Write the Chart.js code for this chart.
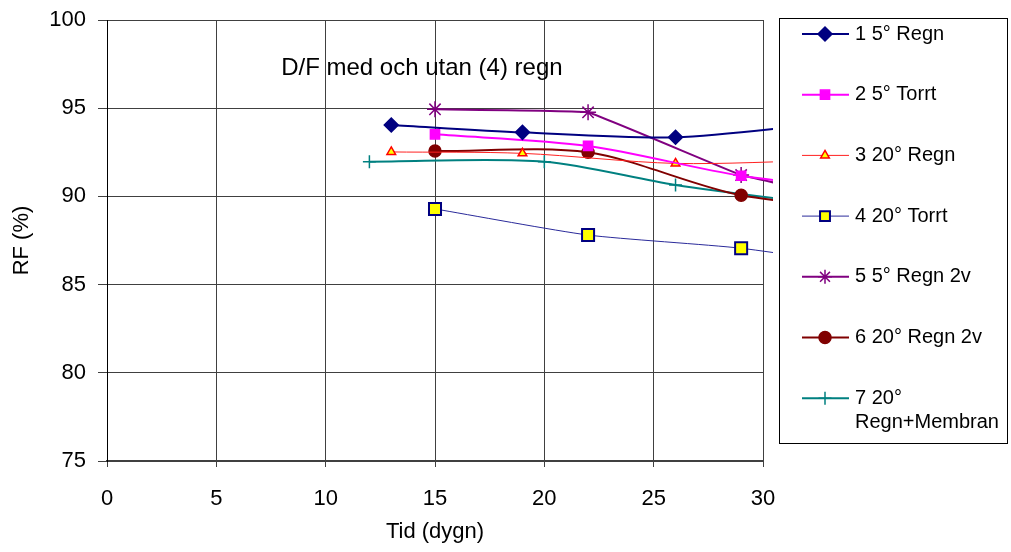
<!DOCTYPE html>
<html>
<head>
<meta charset="utf-8">
<script src="https://cdn.jsdelivr.net/npm/chart.js@4"></script>
<style>
  html, body { margin: 0; padding: 0; background: #fff; }
  canvas { display: block; }
</style>
</head>
<body>
<canvas id="rfChart" width="1011" height="552"></canvas>
<script>
// serienamn
const names = ['1 5° Regn', '2 5° Torrt', '3 20° Regn', '4 20° Torrt', '5 5° Regn 2v', '6 20° Regn 2v', '7 20° Regn+Membran'];

// tid (dygn) och RF (%) per serie
const days1 = [13, 19, 26, 33];
const rf1 = [94.05, 93.63, 93.35, 94.15];
const days2 = [15, 22, 29, 36];
const rf2 = [93.52, 92.86, 91.17, 90.2];
const days3 = [13, 19, 26, 33];
const rf3 = [92.52, 92.44, 91.87, 92.05];
const days4 = [15, 22, 29, 36];
const rf4 = [89.29, 87.81, 87.06, 85.8];
const days5 = [15, 22, 29, 36];
const rf5 = [94.94, 94.77, 91.21, 89.3];
const days6 = [15, 22, 29, 36];
const rf6 = [92.57, 92.5, 90.06, 89.2];
const days7 = [12, 20, 26, 33];
const rf7 = [91.97, 91.97, 90.65, 89.5];

const xTicks = [0, 5, 10, 15, 20, 25, 30];
const yTicks = [75, 80, 85, 90, 95, 100];

const FONT = 'Liberation Sans, Arial, sans-serif';

function pts(days, rf) {
  return days.map((d, i) => ({ x: d, y: rf[i] }));
}

const styles = [
  { color: '#000080', fill: '#000080', style: 'rectRot', r: 7, lw: 2, t: 0.3 },
  { color: '#FF00FF', fill: '#FF00FF', style: 'rect', r: 6.5, lw: 2, t: 0.3 },
  { color: '#FF2020', fill: '#FFFF00', style: 'triangle', r: 5, lw: 1, t: 0.3, pb: '#FF0000' },
  { color: '#2A2A9A', fill: '#FFFF00', style: 'rect', r: 8.5, lw: 1, t: 0.2, pb: '#000080', pbw: 2 },
  { color: '#800080', fill: '#800080', style: 'star', r: 8, lw: 2, t: 0.05 },
  { color: '#800000', fill: '#800000', style: 'circle', r: 6, lw: 2, t: 0.3 },
  { color: '#008080', fill: '#008080', style: 'cross', r: 6.5, lw: 2, t: 0.3 }
];

const series = [
  pts(days1, rf1), pts(days2, rf2), pts(days3, rf3), pts(days4, rf4),
  pts(days5, rf5), pts(days6, rf6), pts(days7, rf7)
];

const datasets = series.map((data, i) => {
  const s = styles[i];
  return {
    label: names[i],
    data: data,
    borderColor: s.color,
    borderWidth: s.lw,
    backgroundColor: s.fill,
    pointStyle: s.style,
    pointRadius: s.r,
    pointBackgroundColor: s.fill,
    pointBorderColor: s.pb || s.color,
    pointBorderWidth: s.pbw || 1.5,
    tension: s.t,
    fill: false,
    clip: { left: 0, top: 0, right: 10, bottom: 0 }
  };
});

// texten inne i diagrammet
const innerTitle = {
  id: 'innerTitle',
  afterDatasetsDraw(chart) {
    const { ctx, scales } = chart;
    ctx.save();
    ctx.font = '24px ' + FONT;
    ctx.fillStyle = '#000';
    ctx.textAlign = 'center';
    ctx.textBaseline = 'middle';
    ctx.fillText('D/F med och utan (4) regn', scales.x.getPixelForValue(14.4), scales.y.getPixelForValue(97.28));
    ctx.restore();
  }
};

// legend med ram till höger
const boxLegend = {
  id: 'boxLegend',
  afterDraw(chart) {
    const ctx = chart.ctx;
    const left = 779.5, top = 18.5, w = 228, h = 425;
    ctx.save();
    ctx.strokeStyle = '#000';
    ctx.lineWidth = 1;
    ctx.strokeRect(left, top, w, h);
    ctx.font = '20px ' + FONT;
    ctx.textBaseline = 'middle';
    chart.data.datasets.forEach((ds, i) => {
      const y = 34 + i * 60.7;
      ctx.strokeStyle = ds.borderColor;
      ctx.lineWidth = ds.borderWidth;
      ctx.beginPath();
      ctx.moveTo(802, y);
      ctx.lineTo(849, y);
      ctx.stroke();
      ctx.fillStyle = ds.pointBackgroundColor;
      ctx.strokeStyle = ds.pointBorderColor;
      ctx.lineWidth = ds.pointBorderWidth;
      Chart.helpers.drawPoint(ctx, {
        pointStyle: ds.pointStyle,
        radius: Math.min(ds.pointRadius, 7),
        rotation: 0,
        borderWidth: ds.pointBorderWidth
      }, 825, y);
      ctx.fillStyle = '#000';
      // radbrytning om texten inte får plats
      const words = ds.label.split(' ');
      const lines = [];
      let line = '';
      words.forEach(wd => {
        const test = line ? line + ' ' + wd : wd;
        if (ctx.measureText(test).width > 145 && line) {
          lines.push(line);
          line = wd;
        } else {
          line = test;
        }
      });
      lines.push(line);
      lines.forEach((t, k) => ctx.fillText(t, 855, y + k * 24));
    });
    ctx.restore();
  }
};

const ctx = document.getElementById('rfChart').getContext('2d');
const rfChart = new Chart(ctx, {
  type: 'line',
  data: { datasets: datasets },
  plugins: [innerTitle, boxLegend],
  options: {
    responsive: false,
    animation: false,
    layout: { padding: { left: 0, top: 20, right: 248, bottom: 0 } },
    plugins: {
      legend: { display: false },
      tooltip: { enabled: false }
    },
    scales: {
      x: {
        type: 'linear',
        min: 0,
        max: 30,
        afterBuildTicks(scale) { scale.ticks = xTicks.map(v => ({ value: v })); },
        afterFit(scale) { scale.height = 91; },
        ticks: { color: '#000', font: { family: FONT, size: 22 }, padding: 19, maxRotation: 0 },
        grid: { color: '#404040', lineWidth: 1, tickLength: 6, tickColor: '#404040' },
        border: { color: '#404040', width: 2 },
        title: { display: true, text: 'Tid (dygn)', color: '#000', font: { family: FONT, size: 22 }, padding: { top: 0, bottom: 7 } }
      },
      y: {
        min: 75,
        max: 100,
        afterBuildTicks(scale) { scale.ticks = yTicks.map(v => ({ value: v })); },
        afterFit(scale) {
          scale.width = 107;
          scale.paddingTop = 0;
          scale.paddingBottom = 0;
        },
        ticks: { color: '#000', font: { family: FONT, size: 22 }, padding: 12 },
        grid: { color: '#404040', lineWidth: 1, tickLength: 9, tickColor: '#404040' },
        border: { color: '#000', width: 1 },
        title: { display: true, text: 'RF (%)', color: '#000', font: { family: FONT, size: 22 }, padding: { top: 9, bottom: 0 } }
      }
    }
  }
});
</script>
</body>
</html>
